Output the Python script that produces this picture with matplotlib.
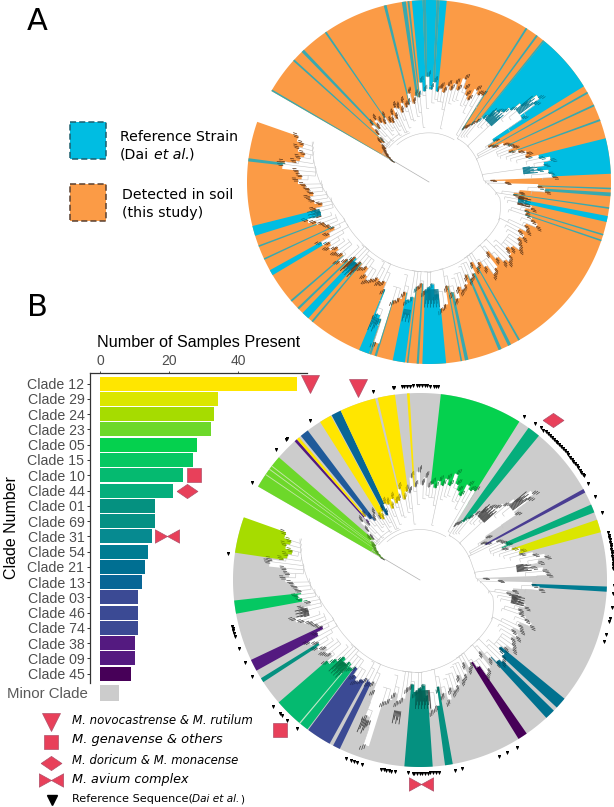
"""Two circular clade trees plus the clade-count bars."""
import numpy as np
import matplotlib
matplotlib.use("Agg")
import matplotlib.pyplot as plt
from matplotlib.path import Path

W, H = 614, 807

CLADES = ["12", "29", "24", "23", "05", "15", "10", "44", "01", "69",
          "31", "54", "21", "13", "03", "46", "74", "38", "09", "45"]
COUNTS = [57, 34, 33, 32, 28, 27, 24, 21, 16, 16, 15, 14, 13, 12, 11, 11, 11, 10, 10, 9]
CLADE_COLORS = ["#FFE600", "#DBE600", "#A6DC00", "#6DD82A", "#05D14E", "#05C862", "#05BA70",
                "#06AE7C", "#059180", "#059184", "#068A90", "#007C92", "#006F92", "#086696",
                "#3B4A94", "#3B4A94", "#3B4A94", "#541A80", "#541A80", "#470058"]
MINOR_COUNT = 5.4
GREY = "#CCCCCC"
RED = "#E8405A"

# inner edge of the coloured ring, clockwise from the gap
PROFILE_DEG = [150, 148, 146, 144, 142, 140, 138, 136, 134, 132, 130, 128, 126, 124, 122, 120, 118, 116,
               114, 112, 110, 108, 106, 104, 102, 100, 98, 96, 94, 92, 90, 88, 86, 84, 82, 80, 78, 76,
               74, 72, 70, 68, 66, 64, 62, 60, 58, 57, 55, 53, 51, 49, 47, 45, 43, 41, 39, 37, 36, 34,
               32, 30, 28, 26, 24, 22, 20, 18, 16, 14, 12, 10, 8, 6, 4, 2, 1, -1, -3, -5, -7, -9, -11,
               -13, -15, -17, -19, -21, -23, -25, -27, -29, -31, -33, -35, -37, -39, -41, -43, -45, -47,
               -49, -51, -53, -55, -57, -59, -61, -63, -65, -67, -69, -71, -73, -75, -77, -79, -81, -83,
               -85, -87, -89, -91, -93, -95, -97, -99, -101, -103, -105, -107, -109, -110, -112, -113,
               -115, -117, -119, -121, -123, -125, -127, -129, -131, -133, -135, -137, -139, -141, -143,
               -145, -147, -149, -151, -153, -155, -157, -159, -161, -163, -165, -167, -169, -171, -173,
               -175, -177, -179, -181, -183, -185, -187, -188, -189, -191, -193, -195, -197, -199.3]
PROFILE_R = [.22, .25, .27, .29, .30, .34, .33, .38, .44, .40, .45, .42, .40, .43, .39, .38, .42, .39,
             .45, .44, .41, .46, .43, .44, .50, .44, .48, .47, .55, .50, .58, .51, .55, .50, .52, .50, .54, .52,
             .56, .53, .60, .55, .52, .50, .57, .55, .56, .34, .36, .39, .42, .46, .49, .54, .56, .60, .66, .76, .72, .62,
             .42, .38, .40, .46, .48, .50, .47, .52, .56, .55, .62, .68, .64, .60, .66, .68, .34, .42, .60, .64, .50, .47, .50,
             .54, .58, .55, .56, .60, .64, .58, .60, .56, .60, .58, .60, .62, .58, .56, .60, .62, .60,
             .56, .50, .60, .62, .56, .52, .54, .50, .56, .58, .55, .60, .62, .60, .66, .62, .58, .68,
             .70, .62, .56, .58, .60, .56, .58, .64, .66, .62, .66, .68, .93, .80, .78, .64,
             .60, .61, .60, .62, .64, .62, .58, .60, .58, .60, .58, .62, .66, .62, .64,
             .62, .66, .64, .68, .62, .58, .60, .62, .66, .70, .62, .64, .60, .64, .66,
             .64, .66, .68, .72, .70, .72, .81, .80, .74, .72, .70, .74, .72, .76]
BACKBONE_DEG = [57, 45, 30, 15, 2, -13, -29, -53, -70, -90, -116, -140, -157.5, -169, -180, -199.3]
BACKBONE_R = [.285, .29, .29, .29, .30, .40, .44, .446, .47, .494, .498, .50, .51, .545, .60, .68]
INNER_ARCS = [(131, 58, .27), (140, 110, .29), (140, 120, .31)]
# (from, to, inner r, outer r) of the densest tip clusters
TIP_SPOTS = [(48, 42, .46, .55), (40, 37, .62, .74), (9, 5, .52, .60), (-9, -14, .50, .57),
             (-85, -92, .59, .69), (-98, -101, .71, .78), (-110, -112.5, .80, .88),
             (-162, -166, .62, .69), (-130, -135, .60, .69)]

A_BANDS = [(150, 149.5), (138.3, 137.7), (134.4, 133.4), (124.9, 124.3), (104.4, 103.5), (98.6, 97.3),
           (96.8, 96.2), (95.4, 92), (92, 91), (91, 87.6), (87.6, 86.7), (86.7, 84.4), (57.9, 57.3),
           (53.9, 53.3), (51.2, 50.7), (50.7, 31.7), (29.7, 29.1), (25.2, 24.6), (20.2, 19.6),
           (13.9, 2.6), (-1.8, -2.3), (-3.3, -4.5), (-8, -8.5), (-10.8, -12.7), (-16.6, -17.1),
           (-18.5, -19), (-60, -60.6), (-63.2, -64.2), (-66.5, -67.5), (-77.5, -78.6), (-79.5, -80),
           (-84.6, -92.1), (-93.2, -93.9), (-96.5, -97), (-97.6, -101.5), (-106.7, -107.4),
           (-108.5, -109.2), (-109.3, -112.6), (-129.6, -130.2), (-131.5, -134), (-135.6, -136.3),
           (-138.9, -139.5), (-149.2, -151), (-154.7, -155.2), (-159.1, -159.6), (-162.8, -166),
           (-186.5, -187.5)]

PALE_STRIPES = ("#C5E8A8", "#BFE8C8")
B_BANDS = [(150, 139, "#6DD82A"), (145.8, 145.5, "#C5E8A8"), (143.8, 143.5, "#C5E8A8"), (142.6, 142.3, "#C5E8A8"),
           (132.1, 131.2, "#541A80"), (131.2, 130.3, "#FFE600"), (129.6, 126.9, "#1F5A9A"),
           (122.3, 118.5, "#FFE600"), (118.2, 115.1, "#086696"), (115.1, 103.9, "#FFE600"),
           (103.1, 97.7, "#FFE600"), (94, 93.2, "#FFE600"), (83.6, 57.9, "#05D14E"),
           (54.5, 50.5, "#06AE7C"), (29.1, 27.9, "#4A3D92"), (23.8, 21.2, "#06AE7C"),
           (18.8, 14.8, "#DBE600"), (-2, -3.6, "#007C92"), (-39.4, -43, "#00718F"),
           (-44.3, -47.5, "#00718F"), (-55.2, -58.2, "#470058"), (-79.9, -82.3, "#059180"),
           (-86.1, -94.8, "#059180"), (-115.4, -117.7, "#3B4A94"), (-118.9, -126.7, "#3B4A94"),
           (-127, -139.1, "#05BA70"), (-129.8, -130.2, "#BFE8C8"), (-146.9, -148.3, "#059180"),
           (-151, -154.7, "#541A80"), (-169.6, -173.7, "#05C862"), (-188.4, -199.6, "#A6DC00")]

REF_DEG = [150, 137.8, 133.9, 133.4, 124.7, 103.9, 98.1, 97.7, 95.4, 94.6, 93.8, 93, 92.2, 91, 90.2, 89.4,
           88.6, 87.8, 87, 86, 85.3, 84.6, 57.5, 53.6, 51.5, 50.4, 49.6, 48.8, 48, 47.2, 46.4, 45.6, 44.8,
           44, 43.2, 42.4, 41.6, 40.8, 40, 39.2, 38.4, 37.6, 36.8, 36, 35.2, 34.4, 33.6, 32.8, 32.3, 29.7,
           25.4, 20.2, 13.9, 13.2, 12.5, 11.8, 11.1, 10.4, 9.7, 9, 8.3, 7.6, 6.9, 6.2, 5.5, 4.8, 4.1, 3.4,
           -1.8, -4.2, -8.2, -11.6, -12.4, -16.5, -18.7, -60, -63.2, -65.9, -77.5, -79.7, -84.5, -85.3, -86.1,
           -86.9, -87.7, -88.5, -89.3, -90.1, -90.9, -91.7, -92, -93.5, -97.5, -98.5, -99.2, -100, -100.8,
           -101.5, -107.4, -109, -110, -111, -112.4, -129.6, -133.2, -135.5, -136.3, -139.2, -150.1, -154.5,
           -159.1, -163, -163.8, -164.6, -165.4, -166, -187.6]
REF_R = 1.036

BOWTIE = Path([(-1, -.55), (0, 0), (-1, .55), (-1, -.55), (1, -.55), (0, 0), (1, .55), (1, -.55)],
              [Path.MOVETO, Path.LINETO, Path.LINETO, Path.CLOSEPOLY] * 2)
DIAMOND = Path([(-1, 0), (0, .68), (1, 0), (0, -.68), (-1, 0)])
# marker, size in points, for each of the four species groups
SPECIES = [("v", 13), ("s", 9.4), (DIAMOND, 15), (BOWTIE, 17.5)]
SPECIES_NAMES = ["M. novocastrense & M. rutilum", "M. genavense & others",
                 "M. doricum & M. monacense", "M. avium complex"]
SPECIES_TREE = [(107.8, 1.08), (-133, 1.10), (50.3, 1.11), (-89.7, 1.09)]
SPECIES_BARS = [(60.6, 0), (27.1, 6), (25.1, 7), (19.4, 10)]

plt.rcParams["font.family"] = ["DejaVu Sans"]
fig = plt.figure(figsize=(W / 100, H / 100), dpi=100)
PD = np.array(PROFILE_DEG, float)
PR = np.array(PROFILE_R, float)
NARROW = ["Liberation Sans Narrow", "DejaVu Sans"]


def inner_r(deg):
    i = np.searchsorted(-PD, -np.asarray(deg))
    return PR[np.clip(i, 0, len(PR) - 1)]


def backbone(deg):
    return np.interp(-np.asarray(deg), -np.array(BACKBONE_DEG), BACKBONE_R)


def polar_axes(cx, cy, radius, rmax=1.16):
    half = radius * rmax
    ax = fig.add_axes([(cx - half) / W, 1 - (cy + half) / H, 2 * half / W, 2 * half / H], projection="polar")
    ax.set_rlim(0, rmax)
    ax.axis("off")
    ax.patch.set_alpha(0)
    return ax


def fill_band(ax, hi, lo, color):
    t = np.append(np.arange(hi, lo, -0.1), lo)
    r = inner_r(t)
    ax.fill(np.radians(np.r_[t, t[::-1]]), np.r_[np.ones_like(t), r[::-1]], color=color, lw=0)


def tip_color(bands, deg, default, scale):
    c = default
    for hi, lo, band in bands:
        if lo <= deg <= hi and band not in PALE_STRIPES:
            c = band
    return np.array(matplotlib.colors.to_rgb(c)) * scale


def draw_tree(ax, base, bands, tip_base, tip_scale):
    fill_band(ax, 150, -199.3, base)
    for hi, lo, c in bands:
        fill_band(ax, hi, lo, c)

    line = dict(color="#C4C4C4", lw=0.4, solid_capstyle="butt")
    ax.plot(np.radians([149.3, 149.3]), [0, .22], color="#B0B0B0", lw=.5)
    for hi, lo, r in INNER_ARCS:
        t = np.arange(hi, lo, -1.0)
        ax.plot(np.radians(t), np.full_like(t, r), **line)
    t = np.arange(57, -199.3, -1.0)
    ax.plot(np.radians(t), backbone(t), **line)
    # stepped branches from the backbone out to the tips
    for i, (d, r) in enumerate(zip(PD[:-1], PR[:-1])):
        if d > 57:
            base_r = .3
        else:
            base_r = float(backbone(d))
        start = base_r if i % 9 == 0 else max(base_r, r - .055 - .02 * (i % 3))
        ax.plot(np.radians([d, d]), [start, r], **line)
        ax.plot(np.radians([d, PD[i + 1]]), [start, start], **line)

    # tips
    for d, r in zip(PD, PR):
        for off, extra, length in ((0, 0, .03), (-.7, .012, .022), (.6, -.004, .026)):
            c = tip_color(bands, d + off, tip_base, tip_scale)
            ax.vlines(np.radians(d + off), r + extra, r + extra + length, colors=[c], lw=0.5)
    for hi, lo, r0, r1 in TIP_SPOTS:
        for k, d in enumerate(np.arange(lo, hi, .45)):
            c = tip_color(bands, d, tip_base, tip_scale)
            ax.vlines(np.radians(d), r0, r1 - .02 * (k % 3), colors=[c], lw=.6)


# tree A
ax_a = polar_axes(429, 182, 182)
a_bands = [(hi, lo, "#38A9AF" if hi - lo < 1.3 else "#00BDE2") for hi, lo in A_BANDS]
draw_tree(ax_a, "#FB9B46", a_bands, "#8A4F24", 0.62)
ax_a.set_rlim(0, 1.16)

# bars
px0, px1, py0, py1 = 90, 307, 373.3, 703
ax_b = fig.add_axes([px0 / W, 1 - py1 / H, (px1 - px0) / W, (py1 - py0) / H])
rows = np.arange(len(CLADES))
ax_b.barh(rows, COUNTS, height=.92, color=CLADE_COLORS, lw=0)
ax_b.barh(20.25, MINOR_COUNT, height=1.07, color=GREY, lw=0)
ax_b.set_xlim(-2.9, 59.8)
ax_b.set_ylim(20.92, -.68)
ax_b.patch.set_alpha(0)
ax_b.xaxis.tick_top()
ax_b.set_xticks([0, 20, 40])
ax_b.set_yticks(rows, ["Clade " + c for c in CLADES], family="Liberation Sans", fontsize=10.2, color="#4D4D4D")
ax_b.tick_params(axis="x", labelsize=10, labelcolor="#4D4D4D", length=1.5, width=.6, pad=2.5,
                 color="#333333")
ax_b.tick_params(axis="y", length=2, width=.7, pad=2, color="#333333")
for lab in ax_b.get_xticklabels():
    lab.set_family("Liberation Sans")
for s in ("right", "bottom"):
    ax_b.spines[s].set_visible(False)
for s in ("left", "top"):
    ax_b.spines[s].set_linewidth(.9)
    ax_b.spines[s].set_color("#333333")
ax_b.spines["left"].set_bounds(-.68, 19.6)
ax_b.text(-3.4, 20.35, "Minor Clade", family="Liberation Sans", fontsize=10.8, color="#5A5A5A",
          ha="right", va="center", clip_on=False)
for (m, ms), (x, y) in zip(SPECIES, SPECIES_BARS):
    ax_b.plot([x], [y], marker=m, ms=ms, color=RED, mec="#B0506A", mew=.5, ls="none", clip_on=False)

# tree B
ax_c = polar_axes(420, 580, 187, rmax=1.18)
draw_tree(ax_c, GREY, B_BANDS, "#6E6E6E", 0.62)
ax_c.scatter(np.radians(REF_DEG), np.full(len(REF_DEG), REF_R), marker="v", s=5, color="black", lw=0)
for (m, ms), (d, r) in zip(SPECIES, SPECIES_TREE):
    ax_c.plot([np.radians(d)], [r], marker=m, ms=ms, color=RED, mec="#B0506A", mew=.5, ls="none", clip_on=False)
ax_c.set_rlim(0, 1.18)

# labels and legends, placed in pixels
ann = fig.add_axes([0, 0, 1, 1])
ann.set_xlim(0, W)
ann.set_ylim(H, 0)
ann.axis("off")
ann.patch.set_alpha(0)
ann.text(37, 22, "A", fontsize=22, ha="center", va="center")
ann.text(37, 308, "B", fontsize=22, ha="center", va="center")
for y, fc, ec in ((122, "#00BDE2", "#1C5F6E"), (184, "#FB9B46", "#5A4030")):
    ann.add_patch(plt.Rectangle((69.5, y), 36.5, 37, fc=fc, ec=ec, lw=1.1, ls=(0, (4, 2))))
ann.text(120, 137, "Reference Strain", fontsize=10.2, va="center")
ann.text(120, 155, "(Dai", fontsize=10.2, va="center")
ann.text(154, 155, "et al.", fontsize=10.2, style="italic", va="center")
ann.text(189, 155, ")", fontsize=10.2, va="center")
ann.text(121.5, 195, "Detected in soil", fontsize=10.2, va="center")
ann.text(121.5, 213, "(this study)", fontsize=10.2, va="center")
ann.text(199, 343, "Number of Samples Present", family="Liberation Sans", fontsize=11.6, ha="center", va="center")
ann.text(12, 528, "Clade Number", family="Liberation Sans", fontsize=11.5, rotation=90, ha="center", va="center")


def fit_width(txt, width_px):
    """Scale a text's font size until it spans the wanted pixel width."""
    now = txt.get_window_extent(fig.canvas.get_renderer()).width
    txt.set_fontsize(txt.get_fontsize() * width_px / now)


legend_y = [722, 742, 763, 780]
text_y = [721, 740, 760, 780]
text_w = [181, 150, 166, 117]
fams = [NARROW, ["DejaVu Sans"], NARROW, ["DejaVu Sans"]]
for (m, ms), name, ym, yt, wd, fam in zip(SPECIES, SPECIES_NAMES, legend_y, text_y, text_w, fams):
    ann.plot([51], [ym], marker=m, ms=ms, color=RED, mec="#B0506A", mew=.5, ls="none")
    fit_width(ann.text(72, yt, name, fontsize=10, style="italic", family=fam, va="center"), wd)
ann.plot([52], [800], marker="v", ms=6.5, color="black", ls="none")
fit_width(ann.text(72, 799, "Reference Sequence(", fontsize=10, family=NARROW, va="center"), 120)
fit_width(ann.text(192.5, 799, "Dai et al.", fontsize=10, style="italic", family=NARROW, va="center"), 47)
fit_width(ann.text(240, 799, ")", fontsize=10, family=NARROW, va="center"), 4)

fig.savefig("out.png", dpi=100)
